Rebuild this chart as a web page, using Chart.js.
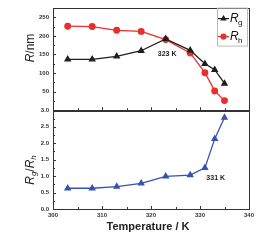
<!DOCTYPE html>
<html>
<head>
<meta charset="utf-8">
<script src="https://cdn.jsdelivr.net/npm/chart.js@4.4.1/dist/chart.umd.min.js"></script>
<style>
  html, body { margin: 0; padding: 0; background: #fff; }
</style>
</head>
<body>
<canvas id="tempChart" width="273" height="242"></canvas>
<script>
// data
const temps = [303, 308, 313, 318, 323, 328, 331, 333, 335];
const rg = [137, 137, 145, 160, 192, 161, 125, 109, 72];
const rh = [226, 225, 215, 212, 190, 154, 101, 52, 26];
const ratio = [0.63, 0.63, 0.68, 0.78, 0.99, 1.03, 1.25, 2.13, 2.78];
const xTicks = [300, 310, 320, 330, 340];
const rTicks = [0, 50, 100, 150, 200, 250];
const ratioTicks = [0, 0.5, 1.0, 1.5, 2.0, 2.5, 3.0];

const black = '#1e1e1e';
const red = '#e8302b';
const blue = '#3552b3';
const tickFont = { family: 'Liberation Sans, Arial, sans-serif', size: 6, weight: 'bold' };

const pts = vals => temps.map((t, i) => ({ x: t, y: vals[i] }));

// write mixed italic / subscript text centred on a point
function richText(ctx, parts, cx, cy, rot) {
    ctx.save();
    ctx.translate(cx, cy);
    if (rot) ctx.rotate(rot);
    let total = 0;
    parts.forEach(p => { ctx.font = p.font; total += ctx.measureText(p.t).width; });
    let x = -total / 2;
    ctx.textBaseline = 'middle';
    ctx.textAlign = 'left';
    parts.forEach(p => {
        ctx.font = p.font;
        ctx.fillText(p.t, x, p.dy || 0);
        x += ctx.measureText(p.t).width;
    });
    ctx.restore();
}

function tickSet(major) {
    const out = [];
    major.forEach((v, i) => {
        out.push({ v, len: 3 });
        if (i < major.length - 1) out.push({ v: (v + major[i + 1]) / 2, len: 2 });
    });
    return out;
}

const framePlugin = {
    id: 'frame',
    beforeDatasetsDraw(chart) {
        const { ctx, chartArea, scales } = chart;
        const x = scales.x;
        ctx.save();
        ctx.strokeStyle = '#333';
        ctx.lineWidth = 1;
        [['yR', rTicks], ['yRatio', ratioTicks]].forEach(([id, major]) => {
            const s = scales[id];
            ctx.strokeRect(Math.round(chartArea.left) + 0.5, Math.round(s.top) + 0.5,
                Math.round(chartArea.right - chartArea.left), Math.round(s.bottom - s.top));
            ctx.beginPath();
            tickSet(xTicks).forEach(t => {
                const px = Math.round(x.getPixelForValue(t.v)) + 0.5;
                ctx.moveTo(px, s.bottom);
                ctx.lineTo(px, s.bottom - t.len);
            });
            tickSet(major).forEach(t => {
                const py = Math.round(s.getPixelForValue(t.v)) + 0.5;
                if (py < s.top + 1) return;
                ctx.moveTo(chartArea.left, py);
                ctx.lineTo(chartArea.left + t.len, py);
            });
            ctx.stroke();
        });
        ctx.restore();
    },
    afterDraw(chart) {
        const { ctx, chartArea, scales } = chart;
        const x = scales.x, yR = scales.yR, yQ = scales.yRatio;
        ctx.save();
        ctx.fillStyle = '#222';
        const ff = 'Liberation Sans, Arial, sans-serif';

        // axis titles
        richText(ctx, [
            { t: 'R', font: `italic 12px ${ff}` },
            { t: '/nm', font: `12px ${ff}` }
        ], 31, 48, -Math.PI / 2);
        richText(ctx, [
            { t: 'R', font: `italic 12px ${ff}` },
            { t: 'g', font: `italic 8px ${ff}`, dy: 3 },
            { t: '/', font: `12px ${ff}` },
            { t: 'R', font: `italic 12px ${ff}` },
            { t: 'h', font: `italic 8px ${ff}`, dy: 3 }
        ], 31, 170, -Math.PI / 2);
        richText(ctx, [{ t: 'Temperature / K', font: `bold 11px ${ff}` }],
            (chartArea.left + chartArea.right) / 2 - 3, 227, 0);

        // annotations
        richText(ctx, [{ t: '323 K', font: `bold 7px ${ff}` }],
            x.getPixelForValue(323.3), yR.getPixelForValue(151), 0);
        richText(ctx, [{ t: '331 K', font: `bold 7px ${ff}` }],
            x.getPixelForValue(333.2), yQ.getPixelForValue(0.93), 0);

        // legend box
        const lx = chartArea.right - 32, ly = yR.top;
        ctx.strokeStyle = '#bbb';
        ctx.lineWidth = 1;
        ctx.strokeRect(lx + 0.5, ly + 0.5, 30, 38);
        const rows = [
            { color: black, style: 'triangle', sub: 'g', y: ly + 11 },
            { color: red, style: 'circle', sub: 'h', y: ly + 29 }
        ];
        rows.forEach(r => {
            ctx.strokeStyle = r.color;
            ctx.fillStyle = r.color;
            ctx.lineWidth = 1.2;
            ctx.beginPath();
            ctx.moveTo(lx + 1, r.y);
            ctx.lineTo(lx + 12, r.y);
            ctx.stroke();
            Chart.helpers.drawPoint(ctx, { pointStyle: r.style, radius: 2.5, borderWidth: 1 }, lx + 6.5, r.y);
            ctx.fillStyle = '#111';
            ctx.font = `italic 12px ${ff}`;
            ctx.textBaseline = 'middle';
            ctx.fillText('R', lx + 13, r.y);
            ctx.font = `8px ${ff}`;
            ctx.fillText(r.sub, lx + 21, r.y + 4);
        });
        ctx.restore();
    }
};

const fixWidth = w => scale => { scale.width = w; };

new Chart(document.getElementById('tempChart'), {
    type: 'line',
    data: {
        datasets: [{
            label: 'Rg',
            data: pts(rg),
            yAxisID: 'yR',
            borderColor: black,
            backgroundColor: black,
            pointStyle: 'triangle',
            pointRadius: 3,
            borderWidth: 1.3
        }, {
            label: 'Rh',
            data: pts(rh),
            yAxisID: 'yR',
            borderColor: red,
            backgroundColor: red,
            pointStyle: 'circle',
            pointRadius: 2.8,
            borderWidth: 1.3
        }, {
            label: 'Rg/Rh',
            data: pts(ratio),
            yAxisID: 'yRatio',
            borderColor: blue,
            backgroundColor: blue,
            pointStyle: 'triangle',
            pointRadius: 3,
            borderWidth: 1.3
        }]
    },
    options: {
        responsive: false,
        animation: false,
        layout: { padding: { top: 5, right: 24, left: 0, bottom: 0 } },
        plugins: { legend: { display: false }, tooltip: { enabled: false } },
        scales: {
            x: {
                type: 'linear',
                min: 300,
                max: 340,
                afterBuildTicks: s => { s.ticks = xTicks.map(v => ({ value: v })); },
                afterFit: s => { s.height = 33; },
                grid: { display: false, drawTicks: false },
                border: { display: false },
                ticks: { font: tickFont, color: '#333', padding: 3, maxRotation: 0, autoSkip: false }
            },
            // first axis in the stack is placed at the bottom
            yRatio: {
                type: 'linear',
                position: 'left',
                stack: 'panels',
                stackWeight: 1,
                min: 0,
                max: 3,
                afterBuildTicks: s => { s.ticks = ratioTicks.map(v => ({ value: v })); },
                afterFit: fixWidth(53),
                grid: { display: false, drawTicks: false },
                border: { display: false },
                ticks: {
                    font: tickFont, color: '#333', padding: 4, autoSkip: false,
                    callback: v => v.toFixed(1)
                }
            },
            yR: {
                type: 'linear',
                position: 'left',
                stack: 'panels',
                stackWeight: 1.04,
                min: 0,
                max: 276,
                afterBuildTicks: s => { s.ticks = rTicks.map(v => ({ value: v })); },
                afterFit: fixWidth(53),
                grid: { display: false, drawTicks: false },
                border: { display: false },
                ticks: {
                    font: tickFont, color: '#333', padding: 4, autoSkip: false,
                    callback: v => (v === 0 ? '' : v)
                }
            }
        }
    },
    plugins: [framePlugin]
});
</script>
</body>
</html>
